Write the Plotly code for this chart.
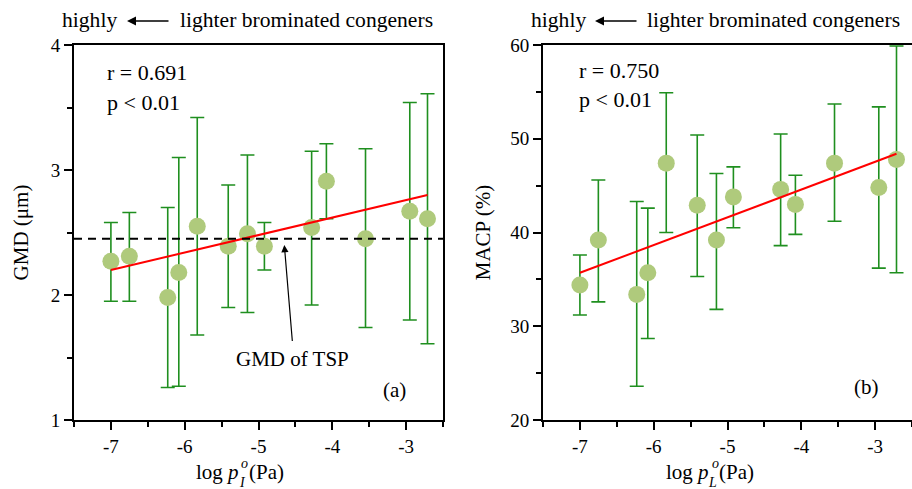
import plotly.graph_objects as go

# ---------------- data ----------------
log_p = [-7.0, -6.75, -6.23, -6.08, -5.83, -5.41, -5.15, -4.92, -4.28, -4.08, -3.55, -2.95, -2.71]

gmd = [2.27, 2.31, 1.98, 2.18, 2.55, 2.39, 2.49, 2.39, 2.54, 2.91, 2.45, 2.67, 2.61]
gmd_hi = [2.58, 2.66, 2.70, 3.10, 3.42, 2.88, 3.12, 2.58, 3.15, 3.21, 3.17, 3.54, 3.61]
gmd_lo = [1.95, 1.95, 1.26, 1.27, 1.68, 1.90, 1.86, 2.20, 1.92, 2.61, 1.74, 1.80, 1.61]

macp = [34.4, 39.2, 33.4, 35.7, 47.4, 42.9, 39.2, 43.8, 44.6, 43.0, 47.4, 44.8, 47.8]
macp_hi = [37.6, 45.6, 43.3, 42.6, 54.9, 50.4, 46.3, 47.0, 50.5, 46.1, 53.7, 53.4, 59.9]
macp_lo = [31.2, 32.6, 23.6, 28.7, 40.0, 35.3, 31.8, 40.5, 38.6, 39.8, 41.2, 36.2, 35.7]

fit_x = [-7.0, -2.71]
fit_gmd = [2.20, 2.80]
fit_macp = [35.7, 48.4]

tsp_gmd = 2.45

x_ticks = [-7, -6, -5, -4, -3]
x_ticklabels = ["-7", "-6", "-5", "-4", "-3"]

# ---------------- style ----------------
FONT = "Liberation Serif, Times New Roman, serif"
BAR = "#1f8f1f"
DOT = "#afca7c"
W, H = 912, 489

def px_x(p):
    return p / W

def px_y(p):
    return (H - p) / H

fig = go.Figure()

def add_panel(xa, ya, y, hi, lo, fity):
    fig.add_trace(go.Scatter(
        x=log_p, y=y, mode="markers", xaxis=xa, yaxis=ya,
        marker=dict(size=17, color=DOT, line=dict(width=0)),
        error_y=dict(type="data", symmetric=False,
                     array=[h - v for h, v in zip(hi, y)],
                     arrayminus=[v - l for v, l in zip(y, lo)],
                     color=BAR, thickness=1.6, width=7),
        showlegend=False, hoverinfo="skip"))
    fig.add_trace(go.Scatter(
        x=fit_x, y=fity, mode="lines", xaxis=xa, yaxis=ya,
        line=dict(color="#ff0000", width=2), showlegend=False))

add_panel("x", "y", gmd, gmd_hi, gmd_lo, fit_gmd)
add_panel("x2", "y2", macp, macp_hi, macp_lo, fit_macp)

fig.add_shape(type="line", xref="x domain", x0=0, x1=1, yref="y", y0=tsp_gmd, y1=tsp_gmd,
              line=dict(color="black", width=2, dash="8px,6px"), layer="above")

ydom = [px_y(420), px_y(45)]
axis_common = dict(showline=True, linecolor="black", linewidth=2, mirror=True,
                   ticks="outside", ticklen=8, tickwidth=1.5, tickcolor="black",
                   showgrid=False, zeroline=False, automargin=False,
                   tickfont=dict(family=FONT, size=19, color="black"))
minor_common = dict(ticks="outside", ticklen=5, tickwidth=1.5, tickcolor="black")

tfont = dict(family=FONT, size=21, color="black")

fig.update_layout(
    width=W, height=H, margin=dict(l=0, r=0, t=0, b=0),
    plot_bgcolor="white", paper_bgcolor="white",
    font=dict(family=FONT, size=19, color="black"),
    xaxis=dict(domain=[px_x(74), px_x(443)], range=[-7.5, -2.5],
               tickmode="array", tickvals=x_ticks, ticktext=x_ticklabels,
               minor=dict(dtick=0.5, tick0=-7.5, **minor_common),
               anchor="y", **axis_common),
    yaxis=dict(domain=ydom, range=[1, 4], dtick=1,
               minor=dict(dtick=0.5, **minor_common),
               title=dict(text="GMD (μm)", font=tfont, standoff=16),
               anchor="x", **axis_common),
    xaxis2=dict(domain=[px_x(543), 1.0], range=[-7.5, -2.5],
                tickmode="array", tickvals=x_ticks, ticktext=x_ticklabels,
                minor=dict(dtick=0.5, tick0=-7.5, **minor_common),
                anchor="y2", **axis_common),
    yaxis2=dict(domain=ydom, range=[20, 60], dtick=10,
                minor=dict(dtick=5, **minor_common),
                title=dict(text="MACP (%)", font=tfont, standoff=14),
                anchor="x2", **axis_common),
)

ann = []
def txt(text, x, y, xref, yref, xanchor="left", size=22, yanchor="middle"):
    ann.append(dict(text=text, x=x, y=y, xref=xref, yref=yref, showarrow=False,
                    xanchor=xanchor, yanchor=yanchor,
                    font=dict(family=FONT, size=size, color="black")))

txt("r = 0.691", -7.08, 3.78, "x", "y")
txt("p &lt; 0.01", -7.08, 3.54, "x", "y")
txt("(a)", -3.16, 1.24, "x", "y", "center", 21)
txt("GMD of TSP", -4.54, 1.49, "x", "y", "center", 21)
txt("r = 0.750", -7.04, 57.3, "x2", "y2")
txt("p &lt; 0.01", -7.04, 54.2, "x2", "y2")
txt("(b)", -3.11, 23.55, "x2", "y2", "center", 21)

ann.append(dict(x=-4.65, y=2.40, xref="x", yref="y", ax=-4.54, ay=1.62, axref="x", ayref="y",
                text="", showarrow=True, arrowhead=2, arrowsize=1.2, arrowwidth=1.2,
                arrowcolor="black"))

# x-axis titles built from pieces so that superscript o sits above the subscript
for dx, sub in [(0, "I"), (470, "L")]:
    txt("log <i>p</i>", px_x(241 + dx), px_y(472), "paper", "paper", "right", 21)
    txt("<i>o</i>", px_x(245 + dx), px_y(463), "paper", "paper", "center", 14)
    txt("<i>%s</i>" % sub, px_x(242 + dx), px_y(482), "paper", "paper", "center", 14)
    txt("(Pa)", px_x(247 + dx), px_y(472), "paper", "paper", "left", 21)

# header texts
for hx, ax0, ax1, lx in [(119, 127, 170, 178), (588, 595, 638, 645)]:
    txt("highly", px_x(hx), px_y(20), "paper", "paper", "right", 21.6)
    txt("lighter brominated congeners", px_x(lx), px_y(20), "paper", "paper", "left", 21.6)
    ann.append(dict(x=px_x(ax0), y=px_y(21), xref="paper", yref="paper",
                    ax=ax1 - ax0, ay=0, text="", showarrow=True, arrowhead=2,
                    arrowsize=1.2, arrowwidth=1.5, arrowcolor="black"))

fig.update_layout(annotations=ann)
fig.write_html("out.html", config={"displayModeBar": False},
               post_script="document.body.style.margin='0';document.body.style.overflow='hidden';")
